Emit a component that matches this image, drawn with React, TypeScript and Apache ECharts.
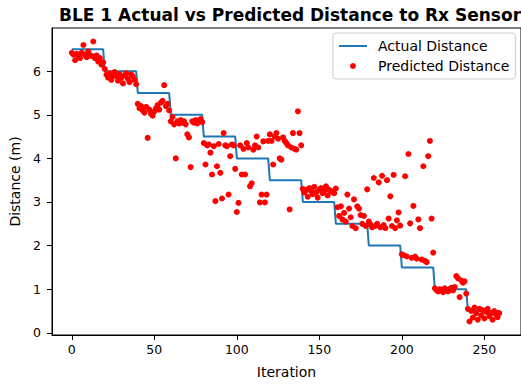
import React, { useEffect, useRef } from "react";
import * as echarts from "echarts";

const titleText = "BLE 1 Actual vs Predicted Distance to Rx Sensor";
const xTicks = [0, 50, 100, 150, 200, 250];
const yTicks = [0, 1, 2, 3, 4, 5, 6];

// Actual distance levels, each held for 20 iterations
const actualLevels = [6.5, 6.0, 5.5, 5.0, 4.5, 4.0, 3.5, 3.0, 2.5, 2.0, 1.5, 1.0, 0.5];
const stepLength = 20;

// Predicted distance, one value per iteration (0..259)
const predicted = [
  // 0-19
  6.42, 6.38, 6.25, 6.40, 6.35, 6.30, 6.42, 6.60, 6.38, 6.32, 6.45, 6.36, 6.35, 6.68, 6.30, 6.36, 6.22, 6.30, 6.15, 6.20,
  // 20-39
  6.05, 5.92, 5.85, 5.95, 5.80, 5.90, 5.98, 5.88, 5.78, 5.93, 5.85, 5.72, 5.90, 5.95, 5.82, 5.75, 5.92, 5.88, 5.80, 5.70,
  // 40-59
  5.25, 5.15, 5.20, 5.10, 5.05, 5.18, 4.47, 5.12, 5.02, 4.98, 5.08, 5.15, 5.22, 5.12, 5.28, 5.32, 5.68, 5.20, 5.25, 5.10,
  // 60-79
  4.85, 4.95, 4.78, 4.00, 4.85, 4.80, 4.88, 4.82, 4.85, 4.78, 4.55, 4.48, 3.80, 4.85, 4.82, 4.88, 4.80, 4.85, 4.90, 4.83,
  // 80-99
  4.35, 3.86, 4.30, 4.32, 4.13, 3.63, 4.28, 3.02, 3.82, 4.33, 3.67, 3.08, 4.58, 4.30, 4.28, 3.17, 4.05, 4.32, 4.30, 3.76,
  // 100-119
  2.77, 2.98, 4.30, 3.63, 4.22, 3.63, 4.35, 4.25, 3.36, 3.43, 4.20, 4.30, 4.50, 4.25, 2.99, 3.17, 4.39, 2.99, 3.17, 4.40,
  // 120-139
  4.55, 4.40, 3.86, 4.50, 4.58, 4.45, 4.00, 3.97, 4.48, 4.40, 4.35, 4.30, 2.83, 4.25, 4.58, 4.22, 4.20, 5.08, 4.58, 4.30,
  // 140-159
  3.30, 3.22, 3.28, 3.12, 3.32, 3.25, 3.18, 3.35, 3.22, 3.10, 3.28, 3.32, 3.20, 3.26, 3.36, 3.15, 3.28, 3.25, 3.22, 3.20,
  // 160-179
  3.31, 2.88, 2.68, 2.90, 2.60, 2.75, 2.55, 3.17, 2.85, 2.65, 2.45, 3.06, 2.40, 2.90, 2.85, 2.70, 2.50, 2.68, 2.45, 3.29,
  // 180-199
  2.55, 2.48, 2.42, 3.55, 2.45, 2.50, 3.45, 2.42, 3.60, 2.47, 2.40, 3.50, 2.62, 3.13, 2.45, 3.62, 2.40, 2.58, 2.76, 2.46,
  // 200-219
  1.80, 1.78, 3.59, 1.75, 4.10, 2.51, 1.72, 2.91, 1.75, 1.70, 2.60, 2.40, 1.68, 3.82, 1.65, 1.62, 4.05, 4.40, 2.62, 1.84,
  // 220-239
  1.02, 0.98, 0.95, 1.00, 0.97, 0.93, 1.02, 0.98, 0.95, 1.00, 1.03, 0.97, 1.05, 1.30, 1.25, 0.82, 1.20, 1.15, 1.18, 0.90,
  // 240-259
  0.55, 0.26, 0.50, 0.35, 0.58, 0.45, 0.30, 0.55, 0.40, 0.52, 0.33, 0.48, 0.55, 0.38, 0.45, 0.30, 0.50, 0.42, 0.36, 0.45,
];

const FONT = "DejaVu Sans";

export default function App() {
  const ref = useRef<HTMLDivElement>(null);

  useEffect(() => {
    if (!ref.current) return;
    const chart = echarts.init(ref.current, undefined, { renderer: "svg" });

    const actualData: number[][] = [];
    actualLevels.forEach((lvl, s) => {
      for (let k = 0; k < stepLength; k++) actualData.push([s * stepLength + k, lvl]);
    });
    const predictedData = predicted.map((v, i) => [i, v]);

    chart.setOption({
      animation: false,
      backgroundColor: "#ffffff",
      title: {
        text: titleText,
        left: 285,
        textAlign: "center",
        top: 1,
        textStyle: { fontFamily: FONT, fontSize: 17, fontWeight: "bold", color: "#000" },
      },
      grid: { left: 51, top: 28, right: -4, bottom: 48, show: true, borderColor: "#000", borderWidth: 1, backgroundColor: "transparent" },
      legend: {
        orient: "vertical",
        left: 333,
        top: 33,
        padding: [6, 6, 6, 6],
        itemGap: 6,
        itemWidth: 28,
        itemHeight: 6,
        backgroundColor: "rgba(255,255,255,0.85)",
        borderColor: "#cccccc",
        borderWidth: 1,
        borderRadius: 3,
        textStyle: { fontFamily: FONT, fontSize: 14, color: "#000", padding: [0, 0, 0, 6] },
        data: [
          { name: "Actual Distance", icon: "path://M0,0 L28,0 L28,2 L0,2 Z" },
          { name: "Predicted Distance", icon: "circle" },
        ],
      },
      xAxis: {
        type: "value",
        min: -12,
        max: 272.2,
        name: "Iteration",
        nameLocation: "middle",
        nameGap: 30,
        nameTextStyle: { fontFamily: FONT, fontSize: 14, color: "#000" },
        axisLine: { show: true, onZero: false, lineStyle: { color: "#000", width: 1 } },
        axisTick: { show: true, length: 5, customValues: xTicks, lineStyle: { color: "#000" } },
        axisLabel: { customValues: xTicks, margin: 8, fontFamily: FONT, fontSize: 12.5, color: "#000" },
        splitLine: { show: false },
      },
      yAxis: {
        type: "value",
        min: -0.05,
        max: 6.99,
        name: "Distance (m)",
        nameLocation: "middle",
        nameGap: 30,
        nameTextStyle: { fontFamily: FONT, fontSize: 14, color: "#000" },
        axisLine: { show: true, onZero: false, lineStyle: { color: "#000", width: 1 } },
        axisTick: { show: true, length: 5, customValues: yTicks, lineStyle: { color: "#000" } },
        axisLabel: { customValues: yTicks, margin: 11, fontFamily: FONT, fontSize: 12.5, color: "#000" },
        splitLine: { show: false },
      },
      series: [
        {
          name: "Actual Distance",
          type: "line",
          data: actualData,
          symbol: "none",
          lineStyle: { color: "#1f77b4", width: 2 },
          itemStyle: { color: "#1f77b4" },
          z: 2,
        },
        {
          name: "Predicted Distance",
          type: "scatter",
          data: predictedData,
          symbol: "circle",
          symbolSize: 6,
          itemStyle: { color: "#ff0000", opacity: 1 },
          z: 3,
        },
      ],
    });

    return () => chart.dispose();
  }, []);

  return (
    <div
      ref={ref}
      style={{ position: "fixed", left: 0, top: 0, width: 521, height: 384, background: "#fff" }}
    />
  );
}
